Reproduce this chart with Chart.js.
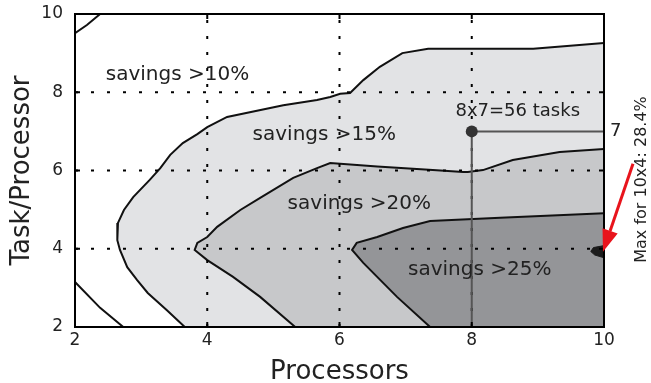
<!DOCTYPE html>
<html>
<head>
<meta charset="utf-8">
<script src="https://cdn.jsdelivr.net/npm/chart.js@4/dist/chart.umd.min.js"></script>
<style>
  html, body { margin: 0; padding: 0; background: #fff; }
</style>
</head>
<body>
<canvas id="savingsChart" width="651" height="383"></canvas>
<script>
// axes
const xTicks = [2, 4, 6, 8, 10];
const yTicks = [2, 4, 6, 8, 10];
const gridX = [4, 6, 8];
const gridY = [4, 6, 8];

// savings contours, each traced from the right edge round to the bottom edge
const contour10 = [[10, 9.26], [8.93, 9.11], [7.34, 9.11], [6.95, 9.0], [6.61, 8.65], [6.36, 8.31],
  [6.16, 7.98], [6.01, 7.96], [5.86, 7.88], [5.66, 7.8], [5.15, 7.67], [4.3, 7.37], [4.0, 7.11],
  [3.85, 6.93], [3.63, 6.7], [3.44, 6.4], [3.29, 6.06], [3.13, 5.76], [2.88, 5.32], [2.74, 4.99],
  [2.65, 4.66], [2.64, 4.22], [2.68, 3.97], [2.79, 3.53], [2.94, 3.2], [3.1, 2.87], [3.39, 2.43], [3.66, 2.0]];
const contour15 = [[10, 6.55], [9.33, 6.47], [8.62, 6.27], [8.17, 6.01], [7.94, 5.96], [7.87, 5.96],
  [7.41, 6.01], [6.57, 6.1], [5.86, 6.19], [5.66, 6.06], [5.3, 5.81], [4.8, 5.3], [4.5, 4.99],
  [4.15, 4.56], [4.0, 4.3], [3.85, 4.15], [3.81, 3.97], [4.0, 3.71], [4.39, 3.28], [4.8, 2.77], [5.33, 2.0]];
const contour20 = [[10, 4.91], [8.43, 4.79], [7.37, 4.71], [6.96, 4.53], [6.57, 4.3], [6.26, 4.15],
  [6.19, 3.97], [6.36, 3.64], [6.87, 2.77], [7.37, 2.0]];
// tiny region above 25% next to the right edge
const peak = [[10, 4.08], [9.84, 4.03], [9.8, 3.93], [9.86, 3.84], [10, 3.77]];
// low-savings corners
const cornerTop = [[2, 9.51], [2.18, 9.72], [2.38, 10]];
const cornerBottom = [[2, 3.15], [2.38, 2.49], [2.73, 2]];

const regionNames = ['savings >10%', 'savings >15%', 'savings >20%', 'savings >25%'];

// chosen configuration and the best one
const chosen = [8, 7];
const best = [10, 4];
const bestSaving = 28.4;

// where the region names sit (data units)
const namePos = [[3.55, 8.44], [5.77, 6.91], [6.3, 5.14], [8.12, 3.46]];

const FONT = 'DejaVu Sans';
const pts = arr => arr.map(p => ({ x: p[0], y: p[1] }));
const corner = [[10, 2]];

const regionFill = (arr, color, order) => ({
  data: pts(arr.concat(corner)), fill: 'shape', backgroundColor: color,
  borderWidth: 0, pointRadius: 0, order: order
});
const edge = (arr, order) => ({
  data: pts(arr), fill: false, borderColor: '#111', borderWidth: 2,
  pointRadius: 0, order: order
});

const datasets = [
  regionFill(contour10, '#e2e3e5', 20),
  regionFill(contour15, '#c7c8ca', 19),
  regionFill(contour20, '#949598', 18),
  { data: pts(peak), fill: 'shape', backgroundColor: '#1c1c1c', borderColor: '#1c1c1c',
    borderWidth: 1, pointRadius: 0, order: 17 },
  edge(contour10, 10), edge(contour15, 10), edge(contour20, 10),
  edge(cornerTop, 10), edge(cornerBottom, 10)
];
gridX.forEach(v => datasets.push({
  data: pts([[v, 2], [v, 10]]), borderColor: '#000', borderWidth: 2,
  borderDash: [3, 13], pointRadius: 0, fill: false, order: 5
}));
gridY.forEach(v => datasets.push({
  data: pts([[2, v], [10, v]]), borderColor: '#000', borderWidth: 2,
  borderDash: [3, 13], pointRadius: 0, fill: false, order: 5
}));
// guide lines from the chosen configuration
datasets.push({
  data: pts([[chosen[0], 2], chosen, [10, chosen[1]]]), borderColor: '#555', borderWidth: 2,
  pointRadius: 0, fill: false, order: 2
});
datasets.push({
  data: pts([chosen]), showLine: false, pointRadius: 6, pointBackgroundColor: '#333',
  pointBorderWidth: 0, order: 1
});

const annotations = {
  id: 'annotations',
  afterDatasetsDraw(chart) {
    const { ctx, chartArea: a, scales: { x, y } } = chart;
    ctx.save();
    ctx.strokeStyle = '#000';
    ctx.lineWidth = 2;
    ctx.strokeRect(a.left, a.top, a.right - a.left, a.bottom - a.top);
    // inward tick marks
    ctx.beginPath();
    xTicks.slice(1, -1).forEach(v => {
      const px = x.getPixelForValue(v);
      ctx.moveTo(px, a.bottom); ctx.lineTo(px, a.bottom - 5);
      ctx.moveTo(px, a.top); ctx.lineTo(px, a.top + 5);
    });
    yTicks.slice(1, -1).forEach(v => {
      const py = y.getPixelForValue(v);
      ctx.moveTo(a.left, py); ctx.lineTo(a.left + 5, py);
      ctx.moveTo(a.right, py); ctx.lineTo(a.right - 5, py);
    });
    ctx.stroke();
    ctx.restore();
  },
  afterDraw(chart) {
    const { ctx, chartArea: a, scales: { x, y } } = chart;
    ctx.save();
    ctx.fillStyle = '#222';
    ctx.textAlign = 'center';
    ctx.textBaseline = 'middle';
    ctx.font = '20px "' + FONT + '"';
    regionNames.forEach((name, i) => {
      ctx.fillText(name, x.getPixelForValue(namePos[i][0]), y.getPixelForValue(namePos[i][1]));
    });

    const cx = x.getPixelForValue(chosen[0]);
    const cy = y.getPixelForValue(chosen[1]);
    ctx.font = '18px "' + FONT + '"';
    ctx.fillText(chosen[0] + 'x' + chosen[1] + '=' + (chosen[0] * chosen[1]) + ' tasks', cx + 46, cy - 20);
    ctx.textAlign = 'left';
    ctx.fillText(String(chosen[1]), a.right + 6, cy);

    // arrow pointing at the best configuration
    const tx = x.getPixelForValue(best[0]) - 1;
    const ty = y.getPixelForValue(best[1]) + 3;
    const sx = tx + 30, sy = ty - 88;
    const len = Math.hypot(tx - sx, ty - sy);
    const ux = (tx - sx) / len, uy = (ty - sy) / len;
    const bx = tx - ux * 22, by = ty - uy * 22;
    ctx.strokeStyle = '#e8141c';
    ctx.fillStyle = '#e8141c';
    ctx.lineWidth = 3;
    ctx.beginPath();
    ctx.moveTo(sx, sy); ctx.lineTo(bx, by);
    ctx.stroke();
    ctx.beginPath();
    ctx.moveTo(tx, ty);
    ctx.lineTo(bx - uy * 8, by + ux * 8);
    ctx.lineTo(bx + uy * 8, by - ux * 8);
    ctx.closePath();
    ctx.fill();

    ctx.translate(a.right + 38, y.getPixelForValue(5.77));
    ctx.rotate(-Math.PI / 2);
    ctx.fillStyle = '#222';
    ctx.textAlign = 'center';
    ctx.font = '16px "' + FONT + '"';
    ctx.fillText('Max for ' + best[0] + 'x' + best[1] + ': ' + bestSaving + '%', 0, 0);
    ctx.restore();
  }
};

new Chart(document.getElementById('savingsChart'), {
  type: 'line',
  data: { datasets: datasets },
  options: {
    responsive: false,
    animation: false,
    layout: { padding: { top: 14, right: 47, left: 0, bottom: 0 } },
    plugins: { legend: { display: false }, tooltip: { enabled: false } },
    scales: {
      x: {
        type: 'linear', min: 2, max: 10,
        afterFit: s => { s.height = 56; s.paddingLeft = 0; s.paddingRight = 0; },
        afterBuildTicks: s => { s.ticks = xTicks.map(v => ({ value: v })); },
        grid: { display: false, drawTicks: false },
        border: { display: false },
        ticks: { color: '#222', font: { family: FONT, size: 17 }, padding: 3, autoSkip: false, maxRotation: 0 },
        title: { display: true, text: 'Processors', color: '#222',
          font: { family: FONT, size: 26, lineHeight: 0.8 }, padding: 0 }
      },
      y: {
        type: 'linear', min: 2, max: 10,
        afterFit: s => { s.width = 75; s.paddingTop = 0; s.paddingBottom = 0; },
        afterBuildTicks: s => { s.ticks = yTicks.map(v => ({ value: v })); },
        grid: { display: false, drawTicks: false },
        border: { display: false },
        ticks: { color: '#222', font: { family: FONT, size: 17 }, padding: 12 },
        title: { display: true, text: 'Task/Processor', color: '#222',
          font: { family: FONT, size: 26, lineHeight: 1 }, padding: { top: 9, bottom: 0 } }
      }
    }
  },
  plugins: [annotations]
});
</script>
</body>
</html>
